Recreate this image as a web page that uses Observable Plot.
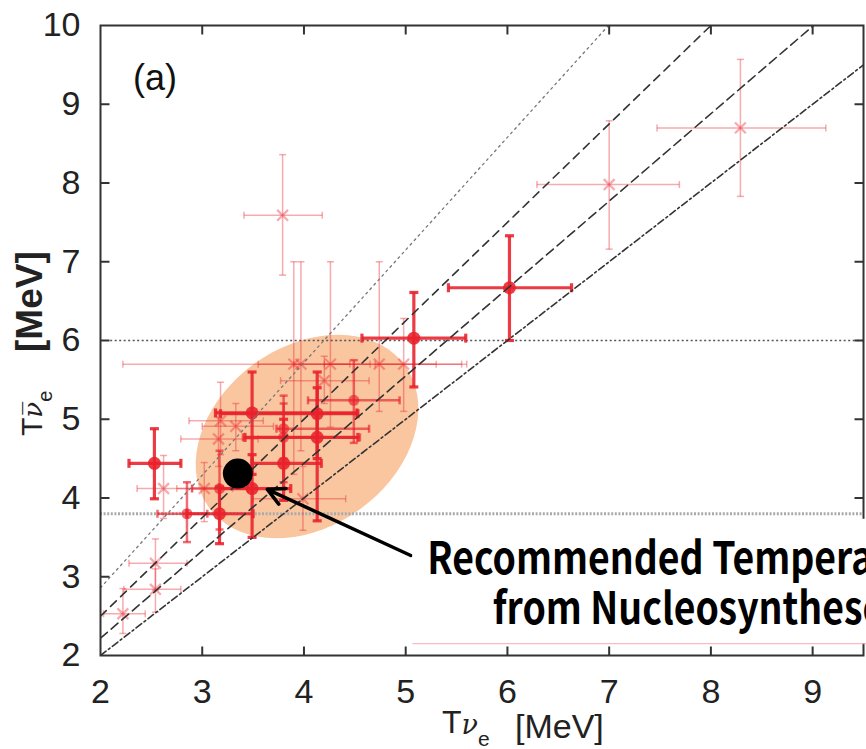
<!DOCTYPE html>
<html><head><meta charset="utf-8">
<script src="https://cdn.jsdelivr.net/npm/d3@7"></script>
<script src="https://cdn.jsdelivr.net/npm/@observablehq/plot@0.6"></script>
<style>
html,body{margin:0;padding:0;background:#fff;}
#chart{width:866px;height:749px;overflow:hidden;}
</style>
</head><body><div id="chart"></div>
<script>
// ---- data (T_nu_e, T_nubar_e, xlo, xhi, ylo, yhi) in MeV ----
const boldPoints = [
  [6.02, 6.67, 5.42, 6.63, 6.00, 7.33],
  [5.08, 6.03, 4.57, 5.59, 5.41, 6.61],
  [2.53, 4.44, 2.28, 2.79, 3.99, 4.88],
  [3.49, 5.08, 3.13, 4.52, 4.30, 5.60],
  [4.13, 5.07, 3.18, 4.53, 4.50, 5.60],
  [4.13, 4.77, 3.42, 4.53, 3.71, 5.40],
  [3.80, 4.44, 3.49, 4.17, 3.97, 5.00],
  [3.49, 4.12, 3.17, 3.87, 3.50, 4.55],
  [3.17, 3.80, 2.85, 3.50, 3.42, 4.14]
];
const mediumPoints = [
  [3.80, 4.77, 3.40, 4.55, 4.20, 5.30],
  [4.49, 5.24, 4.04, 4.94, 4.70, 5.75],
  [3.17, 4.12, 2.90, 3.45, 3.60, 4.60],
  [2.85, 3.80, 2.56, 3.05, 3.44, 4.20],
  [3.80, 4.88, 3.73, 4.64, 4.50, 5.20]
];
const lightPoints = [
  [3.79, 7.59, 3.41, 4.18, 6.83, 8.36],
  [7.00, 7.98, 6.29, 7.69, 7.16, 8.79],
  [8.29, 8.70, 7.47, 9.13, 7.83, 9.57],
  [3.90, 5.70, 2.22, 5.60, 4.30, 7.00],
  [3.97, 5.70, 3.55, 4.45, 4.60, 7.00],
  [4.26, 5.70, 3.90, 4.65, 4.90, 7.00],
  [4.74, 5.70, 4.20, 5.55, 5.10, 7.00],
  [4.98, 5.70, 4.70, 5.30, 5.10, 6.28],
  [4.20, 5.49, 3.77, 4.64, 5.20, 5.80],
  [3.18, 4.98, 2.87, 3.60, 4.55, 5.47],
  [3.33, 4.91, 3.00, 3.70, 4.60, 5.20],
  [3.16, 4.75, 2.79, 3.55, 4.40, 5.10],
  [2.62, 4.12, 2.36, 2.90, 3.74, 4.54],
  [3.02, 4.12, 2.75, 3.30, 3.70, 4.45],
  [3.99, 3.99, 3.50, 4.41, 3.59, 4.40],
  [2.54, 3.17, 2.28, 2.85, 2.83, 3.48],
  [2.54, 2.84, 2.23, 2.79, 2.55, 3.10],
  [2.22, 2.53, 2.03, 2.44, 2.28, 2.85]
];
const recommended = [[3.35, 4.31]];
const ratioLines = [1.0, 1.11, 1.25, 1.43];          // T_nubar / T_nu
const ratioStyles = ["7,3,2,3", "9,5", "8,6", "2,4"];
const levelLines = [6.0, 3.8];
const xTicks = [2, 3, 4, 5, 6, 7, 8, 9];
const yTicks = [2, 3, 4, 5, 6, 7, 8, 9, 10];
const xDomain = [2, 9.5];
const yDomain = [2, 10];
// shaded region (center, major axis vector, minor axis vector) in MeV
const regionCenter = [4.03, 4.78];
const regionMajor = [0.963, 0.903];
const regionMinor = [-0.520, 0.924];
const arrowFrom = [5.05, 3.27];
const arrowTo = [3.64, 4.11];
const noteLines = "Recommended Temperatures\nfrom Nucleosyntheses";
const notePos = [7.87, 2.92];
const noteBox = [5.07, 9.8, 2.15, 3.73];
const panelLabel = "(a)";
const panelPos = [2.32, 9.33];

const RED = "#e8212b";
const vcap = {draw(ctx, size){const r = Math.sqrt(size/Math.PI); ctx.moveTo(0,-r); ctx.lineTo(0,r);}};
const hcap = {draw(ctx, size){const r = Math.sqrt(size/Math.PI); ctx.moveTo(-r,0); ctx.lineTo(r,0);}};

function errMarks(pts, {sw, op, cap, dot, symbol}) {
  const rows = pts.map(p => ({x:p[0], y:p[1], xlo:p[2], xhi:p[3], ylo:p[4], yhi:p[5]}));
  const st = {stroke: RED, strokeOpacity: op, strokeWidth: sw};
  return [
    Plot.link(rows, {x1:"xlo", x2:"xhi", y1:"y", y2:"y", ...st}),
    Plot.link(rows, {x1:"x", x2:"x", y1:"ylo", y2:"yhi", ...st}),
    Plot.dot(rows, {x:"xlo", y:"y", symbol: vcap, r: cap, fill:"none", ...st}),
    Plot.dot(rows, {x:"xhi", y:"y", symbol: vcap, r: cap, fill:"none", ...st}),
    Plot.dot(rows, {x:"x", y:"ylo", symbol: hcap, r: cap, fill:"none", ...st}),
    Plot.dot(rows, {x:"x", y:"yhi", symbol: hcap, r: cap, fill:"none", ...st}),
    symbol === "circle"
      ? Plot.dot(rows, {x:"x", y:"y", r: dot, fill: RED, fillOpacity: op, stroke: "none"})
      : Plot.dot(rows, {x:"x", y:"y", r: dot, symbol: "times", fill:"none", ...st, strokeWidth: sw + 0.8})
  ];
}

const ellipse = d3.range(0, 73).map(i => {
  const t = i / 72 * 2 * Math.PI;
  return {x: regionCenter[0] + regionMajor[0]*Math.cos(t) + regionMinor[0]*Math.sin(t),
          y: regionCenter[1] + regionMajor[1]*Math.cos(t) + regionMinor[1]*Math.sin(t)};
});

const diag = ratioLines.map((r, i) => {
  const xe = Math.min(xDomain[1], yDomain[1] / r);
  return [{x: xDomain[0], y: xDomain[0]*r, k:i}, {x: xe, y: xe*r, k:i}];
});

const tickStyle = {stroke:"#333", strokeWidth:2, fill:"none", r:4.5, symbol: vcap};
const tickStyleH = {stroke:"#333", strokeWidth:2, fill:"none", r:4.5, symbol: hcap};

const plot = Plot.plot({
  width: 866, height: 749,
  marginLeft: 100, marginRight: 3, marginTop: 25, marginBottom: 94,
  x: {domain: xDomain},
  y: {domain: yDomain},
  style: {fontFamily: "'Liberation Sans', Arial, sans-serif", fontSize: "34px", color: "#222", background: "#fff"},
  marks: [
    Plot.line(ellipse, {x:"x", y:"y", fill:"#f9c6a0", stroke:"none", curve:"linear-closed"}),
    Plot.ruleY([levelLines[0]], {x1: 2.1, x2: xDomain[1], stroke:"#555", strokeWidth:1.5, strokeDasharray:"2,2.5"}),
    Plot.ruleY([levelLines[1]], {x1: xDomain[0], x2: xDomain[1], stroke:"#aaa", strokeWidth:3, strokeDasharray:"2,1.6"}),
    ...errMarks(lightPoints, {sw:1.5, op:0.38, cap:3.5, dot:5, symbol:"times"}),
    ...errMarks(mediumPoints, {sw:2.5, op:0.65, cap:4, dot:5.5, symbol:"circle"}),
    ...errMarks(boldPoints, {sw:3.2, op:0.88, cap:4.5, dot:6.5, symbol:"circle"}),
    ...diag.map((seg, i) => Plot.line(seg, {x:"x", y:"y", stroke: i === 3 ? "#777" : "#333",
        strokeWidth: i === 3 ? 1.3 : 1.6, strokeDasharray: ratioStyles[i], clip: true})),
    Plot.dot(recommended, {x: d => d[0], y: d => d[1], r: 15, fill: "#000"}),
    Plot.arrow([0], {x1: () => arrowFrom[0], y1: () => arrowFrom[1], x2: () => arrowTo[0], y2: () => arrowTo[1],
        stroke:"#000", strokeWidth:3.5, headLength: 8, headAngle: 55}),
    Plot.frame({stroke:"#333", strokeWidth:2}),
    Plot.dot(xTicks.slice(1), {x: d => d, y: () => yDomain[0], dy: -4.5, ...tickStyle}),
    Plot.dot(xTicks.slice(1), {x: d => d, y: () => yDomain[1], dy: 4.5, ...tickStyle}),
    Plot.dot(yTicks.slice(1, -1), {x: () => xDomain[0], y: d => d, dx: 4.5, ...tickStyleH}),
    Plot.dot(yTicks.slice(1, -1), {x: () => xDomain[1], y: d => d, dx: -4.5, ...tickStyleH}),
    Plot.rect([0], {x1: () => noteBox[0], x2: () => noteBox[1], y1: () => noteBox[2], y2: () => noteBox[3], fill:"#fff"}),
    Plot.ruleY([noteBox[2]], {x1: noteBox[0], x2: noteBox[1], stroke:"#f4b0b0", strokeWidth:1}),
    Plot.text([noteLines], {x: () => notePos[0], y: () => notePos[1], text: d => d, fontSize: 44, lineHeight: 1.14,
        fontWeight: "bold", fontFamily: "'Noto Sans CJK JP', sans-serif", fill: "#000", className: "note"}),
    Plot.text([panelLabel], {x: () => panelPos[0], y: () => panelPos[1], text: d => d, textAnchor: "start", fontSize: 36, fill:"#111"}),
    Plot.axisX({ticks: xTicks, tickSize: 0, tickPadding: 23, tickFormat: d => String(d), label: null}),
    Plot.axisY({ticks: yTicks, tickSize: 0, tickPadding: 20, tickFormat: d => String(d), label: null})
  ]
});
document.getElementById("chart").appendChild(plot);

const svg = d3.select(plot);
// condense the annotation horizontally (narrow gothic face in the original)
svg.selectAll("g.note text").each(function() {
  const t = d3.select(this);
  t.attr("transform", (t.attr("transform") || "") + " scale(0.85,1)");
});

// axis titles with sub/superscripts
const xl = svg.append("text").attr("x", 442).attr("y", 733).attr("fill", "#222")
  .attr("text-anchor", "start")
  .style("font-family", "'Liberation Sans', Arial, sans-serif").style("font-size", "32px");
xl.append("tspan").text("T");
xl.append("tspan").attr("dy", 1).style("font-size", "27px").style("font-style", "italic")
  .style("font-family", "'DejaVu Serif', serif").text("\u03BD");
xl.append("tspan").attr("dy", 12).style("font-size", "21px").text("e");
xl.append("tspan").attr("x", 515).attr("y", 738).style("font-size", "34px").text("[MeV]");

const yl = svg.append("text").attr("transform", "translate(42,436) rotate(-90)").attr("fill", "#222")
  .attr("text-anchor", "start")
  .style("font-family", "'Liberation Sans', Arial, sans-serif").style("font-size", "30px");
yl.append("tspan").text("T");
yl.append("tspan").attr("dy", 0).style("font-size", "26px").style("font-style", "italic")
  .style("font-family", "'DejaVu Serif', serif").text("\u03BD\u0305");
yl.append("tspan").attr("dy", 10).style("font-size", "20px").text("e");
yl.append("tspan").attr("x", 84).attr("y", 0).style("font-size", "37px").style("font-weight", "bold").text("[MeV]");
</script>
</body></html>
